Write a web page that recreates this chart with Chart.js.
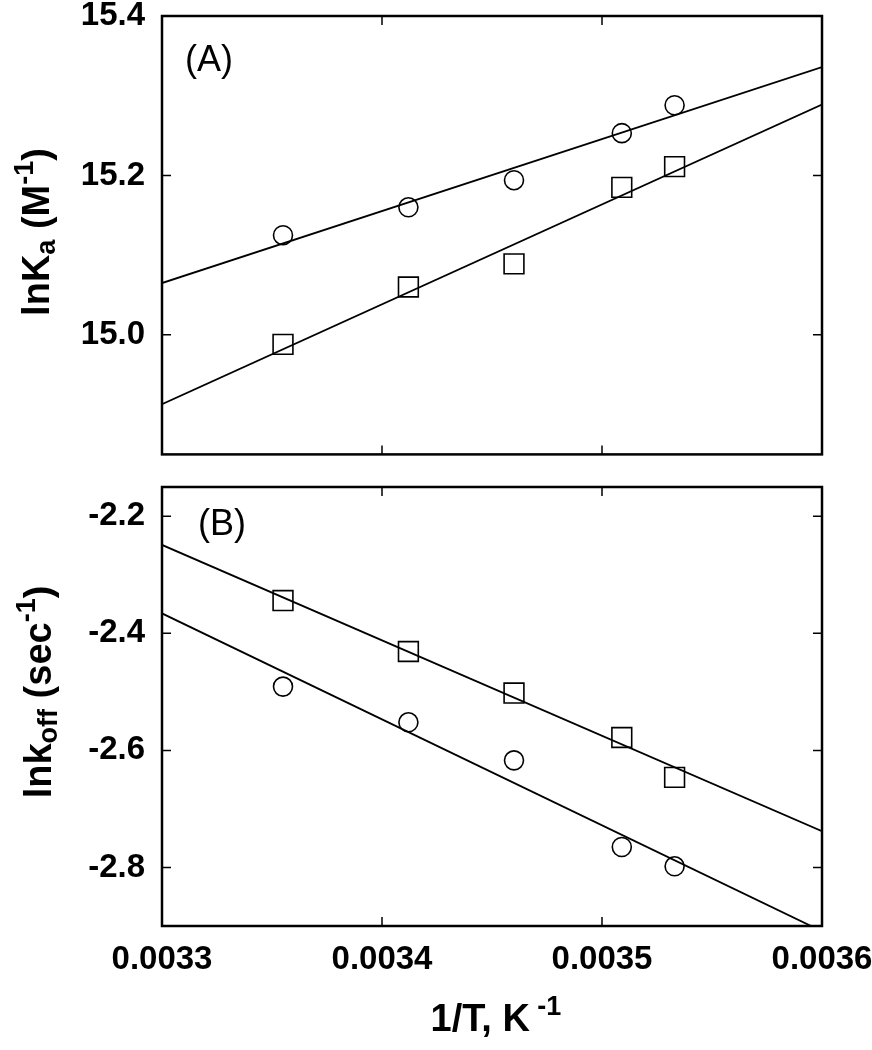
<!DOCTYPE html>
<html>
<head>
<meta charset="utf-8">
<script src="https://cdn.jsdelivr.net/npm/chart.js@4.4.0/dist/chart.umd.min.js"></script>
<style>
  html, body { margin: 0; padding: 0; background: #fff; }
  #wrap { position: relative; width: 872px; height: 1050px; }
  canvas { position: absolute; left: 0; }
  #chartA { top: 0; }
  #chartB { top: 470px; }
</style>
</head>
<body>
<div id="wrap">
  <canvas id="chartA" width="872" height="470"></canvas>
  <canvas id="chartB" width="872" height="580"></canvas>
</div>
<script>
/*
 * Data
**/
// 1/T (K^-1) for the five temperatures
const invTemp = [0.003355, 0.003412, 0.00346, 0.003509, 0.003533]

// panel A: lnKa
const lnKaCircle = [15.125, 15.160, 15.194, 15.253, 15.288]
const lnKaSquare = [14.988, 15.060, 15.089, 15.185, 15.211]

// panel B: lnkoff
const lnKoffSquare = [-2.344, -2.431, -2.502, -2.578, -2.646]
const lnKoffCircle = [-2.491, -2.552, -2.617, -2.765, -2.798]

// fitted lines, end points at the x axis limits
const fitX = [0.0033, 0.0036]
const fitKaCircle = [15.065, 15.336]
const fitKaSquare = [14.913, 15.289]
const fitKoffSquare = [-2.249, -2.738]
const fitKoffCircle = [-2.366, -2.909]

// tick labels
const xTicks = [0.0033, 0.0034, 0.0035, 0.0036]
const yTicksA = [15.0, 15.2, 15.4]
const yTicksB = [-2.8, -2.6, -2.4, -2.2]

// texts
const panelA = '(A)'
const panelB = '(B)'
const yTitleA = [{ text: 'lnK' }, { text: 'a', role: 'sub' }, { text: ' (M' }, { text: '-1', role: 'sup' }, { text: ')' }]
const yTitleB = [{ text: 'lnk' }, { text: 'off', role: 'sub' }, { text: ' (sec' }, { text: '-1', role: 'sup' }, { text: ')' }]
const xTitle = [{ text: '1/T, K' }, { text: ' -1', role: 'sup' }]

const FONT = "'Liberation Sans', Arial, sans-serif"

const points = (xs, ys) => xs.map((x, i) => ({ x: x, y: ys[i] }))

const markerSet = (data, style) => ({
  data: data,
  showLine: false,
  pointStyle: style,
  pointRadius: style === 'rect' ? 14 : 9.5,
  pointHoverRadius: style === 'rect' ? 14 : 9.5,
  borderColor: '#000',
  borderWidth: 1.6,
  backgroundColor: 'rgba(0,0,0,0)'
})

const fitSet = (data) => ({
  data: data,
  showLine: true,
  pointRadius: 0,
  borderColor: '#000',
  borderWidth: 1.8,
  clip: 0
})

// frame round the plot area and ticks pointing inwards on all four sides
const frameTicks = {
  id: 'frameTicks',
  afterDatasetsDraw(chart) {
    const { ctx, chartArea: a, scales } = chart
    const len = 9
    ctx.save()
    ctx.strokeStyle = '#000'
    ctx.lineWidth = 1.5
    ctx.beginPath()
    scales.x.ticks.forEach(t => {
      const px = scales.x.getPixelForValue(t.value)
      if (px <= a.left + 2 || px >= a.right - 2) return
      ctx.moveTo(px, a.bottom); ctx.lineTo(px, a.bottom - len)
      ctx.moveTo(px, a.top); ctx.lineTo(px, a.top + len)
    })
    scales.y.ticks.forEach(t => {
      const py = scales.y.getPixelForValue(t.value)
      if (py <= a.top + 2 || py >= a.bottom - 2) return
      ctx.moveTo(a.left, py); ctx.lineTo(a.left + len, py)
      ctx.moveTo(a.right, py); ctx.lineTo(a.right - len, py)
    })
    ctx.stroke()
    ctx.lineWidth = 2.5
    ctx.strokeRect(a.left, a.top, a.width, a.height)
    ctx.restore()
  }
}

// titles with sub- and superscripts, plus the panel letter
function drawRich(ctx, segs, x, y, rotate) {
  const fontOf = s => s.role ? `bold 27px ${FONT}` : `bold 38px ${FONT}`
  const shiftOf = s => s.role === 'sub' ? 6 : s.role === 'sup' ? -16 : 0
  let total = 0
  segs.forEach(s => { ctx.font = fontOf(s); total += ctx.measureText(s.text).width })
  ctx.save()
  ctx.translate(x, y)
  if (rotate) ctx.rotate(-Math.PI / 2)
  ctx.textBaseline = 'alphabetic'
  ctx.textAlign = 'left'
  let pos = -total / 2
  segs.forEach(s => {
    ctx.font = fontOf(s)
    ctx.fillText(s.text, pos, shiftOf(s))
    pos += ctx.measureText(s.text).width
  })
  ctx.restore()
}

const labels = {
  id: 'labels',
  afterDraw(chart, args, opts) {
    const ctx = chart.ctx
    ctx.save()
    ctx.fillStyle = '#000'
    drawRich(ctx, opts.yTitle, opts.yTitleX, opts.yTitleY, true)
    if (opts.xTitle) drawRich(ctx, opts.xTitle, opts.xTitleX, opts.xTitleY, false)
    ctx.font = `36px ${FONT}`
    ctx.textBaseline = 'middle'
    ctx.textAlign = 'left'
    ctx.fillText(opts.panel, opts.panelX, opts.panelY)
    ctx.restore()
  }
}

function scalesFor(yMin, yMax, yTicks, showX, xHeight) {
  return {
    x: {
      type: 'linear',
      min: 0.0033,
      max: 0.0036,
      afterBuildTicks: s => { s.ticks = xTicks.map(v => ({ value: v })) },
      afterFit: s => { s.height = xHeight; s.paddingLeft = 0; s.paddingRight = 0 },
      grid: { display: false, drawTicks: false },
      border: { display: false },
      ticks: {
        display: showX,
        padding: 14,
        color: '#000',
        maxRotation: 0,
        font: { family: FONT, size: 33, weight: 'bold', lineHeight: 1.2 },
        callback: v => v.toFixed(4)
      }
    },
    y: {
      type: 'linear',
      min: yMin,
      max: yMax,
      afterBuildTicks: s => { s.ticks = yTicks.map(v => ({ value: v })) },
      afterFit: s => { s.width = 162; s.paddingTop = 0; s.paddingBottom = 0 },
      grid: { display: false, drawTicks: false },
      border: { display: false },
      ticks: {
        padding: 17,
        color: '#000',
        font: { family: FONT, size: 33, weight: 'bold', lineHeight: 0.9 },
        callback: v => v.toFixed(1)
      }
    }
  }
}

function baseOptions(padTop, scales, labelOpts) {
  return {
    responsive: false,
    animation: false,
    events: [],
    layout: { padding: { top: padTop, right: 50, left: 0, bottom: 0 } },
    scales: scales,
    plugins: {
      legend: { display: false },
      tooltip: { enabled: false },
      labels: labelOpts
    }
  }
}

new Chart(document.getElementById('chartA'), {
  type: 'scatter',
  data: {
    datasets: [
      fitSet(points(fitX, fitKaCircle)),
      fitSet(points(fitX, fitKaSquare)),
      markerSet(points(invTemp, lnKaCircle), 'circle'),
      markerSet(points(invTemp, lnKaSquare), 'rect')
    ]
  },
  options: baseOptions(16, scalesFor(14.85, 15.4, yTicksA, false, 15), {
    yTitle: yTitleA, yTitleX: 49, yTitleY: 232,
    panel: panelA, panelX: 185, panelY: 61
  }),
  plugins: [frameTicks, labels]
})

new Chart(document.getElementById('chartB'), {
  type: 'scatter',
  data: {
    datasets: [
      fitSet(points(fitX, fitKoffSquare)),
      fitSet(points(fitX, fitKoffCircle)),
      markerSet(points(invTemp, lnKoffSquare), 'rect'),
      markerSet(points(invTemp, lnKoffCircle), 'circle')
    ]
  },
  options: baseOptions(17, scalesFor(-2.9, -2.15, yTicksB, true, 124), {
    yTitle: yTitleB, yTitleX: 51, yTitleY: 222,
    xTitle: xTitle, xTitleX: 496, xTitleY: 561,
    panel: panelB, panelX: 198, panelY: 55
  }),
  plugins: [frameTicks, labels]
})
</script>
</body>
</html>
